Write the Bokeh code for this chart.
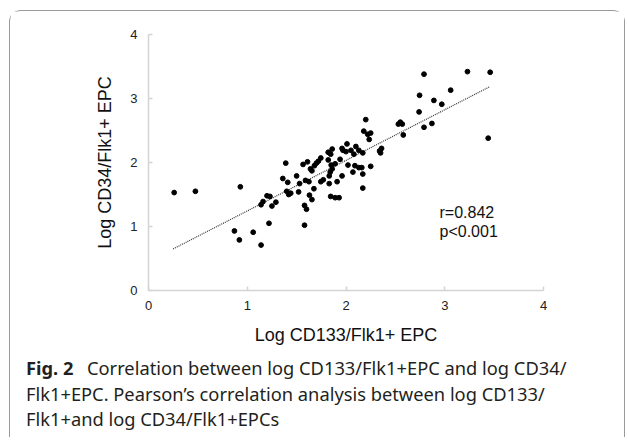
from bokeh.plotting import figure
from bokeh.models import Range1d, Label, FixedTicker
from bokeh.layouts import column
from bokeh.embed import file_html
from bokeh.resources import INLINE

# ---- data ----
cd133 = [0.26, 0.475, 0.93, 0.87, 0.92, 1.06, 1.14, 1.22, 1.58, 1.14,
         1.16, 1.20, 1.23, 1.25, 1.29, 1.36, 1.39, 1.41, 1.40, 1.42,
         1.44, 1.50, 1.52, 1.53, 1.565, 1.58, 1.60, 1.59, 1.61, 1.625,
         1.63, 1.655, 1.64, 1.655, 1.675, 1.68, 1.70, 1.72, 1.745, 1.745,
         1.77, 1.82, 1.82, 1.83, 1.83, 1.84, 1.845, 1.845, 1.86, 1.85,
         1.86, 1.89, 1.89, 1.91, 1.93, 1.94, 1.96, 1.96, 1.97, 2.01,
         2.00, 2.02, 2.05, 2.07, 2.08, 2.10, 2.09, 2.13, 2.13, 2.16,
         2.17, 2.17, 2.17, 2.18, 2.20, 2.22, 2.25, 2.235, 2.25, 2.34,
         2.35, 2.36, 2.53, 2.55, 2.57, 2.58, 2.745, 2.74, 2.79, 2.79,
         2.87, 2.89, 2.97, 3.06, 3.23, 3.46, 3.44]
cd34 = [1.53, 1.55, 1.62, 0.93, 0.79, 0.91, 0.71, 1.05, 1.02, 1.34,
        1.39, 1.48, 1.47, 1.32, 1.38, 1.75, 1.99, 1.69, 1.55, 1.50,
        1.52, 1.79, 1.54, 1.67, 1.97, 1.33, 1.27, 1.72, 2.01, 1.70,
        1.49, 1.42, 1.90, 1.87, 1.59, 1.95, 1.99, 2.02, 2.07, 1.70,
        1.73, 2.16, 2.04, 1.67, 1.79, 1.85, 1.47, 2.13, 2.21, 1.96,
        1.90, 1.98, 1.45, 1.70, 1.45, 2.05, 1.79, 2.22, 2.19, 2.29,
        2.17, 1.96, 2.19, 1.85, 2.13, 2.25, 1.95, 2.19, 1.92, 1.92,
        1.82, 1.60, 2.15, 2.49, 2.67, 2.44, 2.46, 2.36, 1.94, 2.18,
        2.15, 2.22, 2.60, 2.63, 2.60, 2.43, 3.05, 2.79, 3.38, 2.55,
        2.61, 2.97, 2.91, 3.13, 3.42, 3.41, 2.38]
trend_x = [0.25, 3.45]
trend_y = [0.65, 3.18]
ticks = [0, 1, 2, 3, 4]
x_title = "Log CD133/Flk1+ EPC"
y_title = "Log CD34/Flk1+ EPC"
stats = ["r=0.842", "p<0.001"]
caption_bold = "Fig. 2"
caption_lines = ["Correlation between log CD133/Flk1+EPC and log CD34/",
                 "Flk1+EPC. Pearson\u2019s correlation analysis between log CD133/",
                 "Flk1+and log CD34/Flk1+EPCs"]

W = 614
p = figure(width=W, height=336, output_backend="svg", toolbar_location=None,
           x_range=Range1d(0, 4), y_range=Range1d(0, 4),
           min_border_left=138, min_border_right=81,
           min_border_top=23, min_border_bottom=55)
p.frame_align = False
p.outline_line_color = None
p.grid.visible = False
p.background_fill_color = "white"
p.border_fill_color = "white"

for ax in (p.xaxis[0], p.yaxis[0]):
    ax.ticker = FixedTicker(ticks=ticks)
    ax.axis_line_color = "#d4d4d4"
    ax.axis_line_width = 1.5
    ax.major_tick_line_color = "#d4d4d4"
    ax.major_tick_line_width = 1.5
    ax.major_tick_in = 4
    ax.major_tick_out = 0
    ax.minor_tick_line_color = None
    ax.major_label_text_font = "Liberation Sans"
    ax.major_label_text_font_size = "13px"
    ax.major_label_text_color = "#222222"
    ax.axis_label_text_font = "Liberation Sans"
    ax.axis_label_text_font_size = "18px"
    ax.axis_label_text_font_style = "normal"
    ax.axis_label_text_color = "#111111"
p.xaxis.major_label_standoff = 10
p.yaxis.major_label_standoff = 11
p.xaxis.axis_label = x_title
p.yaxis.axis_label = y_title
p.xaxis.axis_label_standoff = 12
p.yaxis.axis_label_standoff = 12

p.line(trend_x, trend_y, line_color="#333333", line_width=1.2, line_dash="1 1")
p.scatter(cd133, cd34, size=4.8, marker="circle", fill_color="black", line_color="black")

for i, s in enumerate(stats):
    p.add_layout(Label(x=291, y=78.5 - 19.7 * i, text=s, x_units="screen", y_units="screen",
                       text_align="left", text_baseline="alphabetic",
                       text_font="Liberation Sans", text_font_size="16px", text_color="#111111"))

# caption panel (pixel-like frame)
CH = 90
cap = figure(width=W, height=CH, output_backend="svg", toolbar_location=None,
             x_range=Range1d(0, W), y_range=Range1d(CH, 0),
             min_border=0, min_border_left=0, min_border_right=0,
             min_border_top=0, min_border_bottom=0)
cap.frame_align = False
cap.axis.visible = False
cap.grid.visible = False
cap.outline_line_color = None
cap.add_layout(Label(x=15.5, y=20, text=caption_bold, text_align="left", text_baseline="alphabetic",
                     text_font="Noto Sans", text_font_size="18.3px", text_font_style="bold",
                     text_color="#231f20"))
xs = [76.5, 15.5, 15.5]
for i, s in enumerate(caption_lines):
    cap.add_layout(Label(x=xs[i], y=20 + 25.6 * i, text=s, text_align="left", text_baseline="alphabetic",
                         text_font="Noto Sans", text_font_size="18.3px", text_color="#231f20"))

layout = column(p, cap, spacing=0,
                styles={"margin-left": "9px", "margin-top": "10px",
                        "border-left": "1.5px solid #9a9a9a", "border-top": "1.5px solid #9a9a9a",
                        "border-right": "1.5px solid #9a9a9a",
                        "border-radius": "12px 12px 0 0"})

open("out.html", "w").write(file_html(layout, INLINE))
